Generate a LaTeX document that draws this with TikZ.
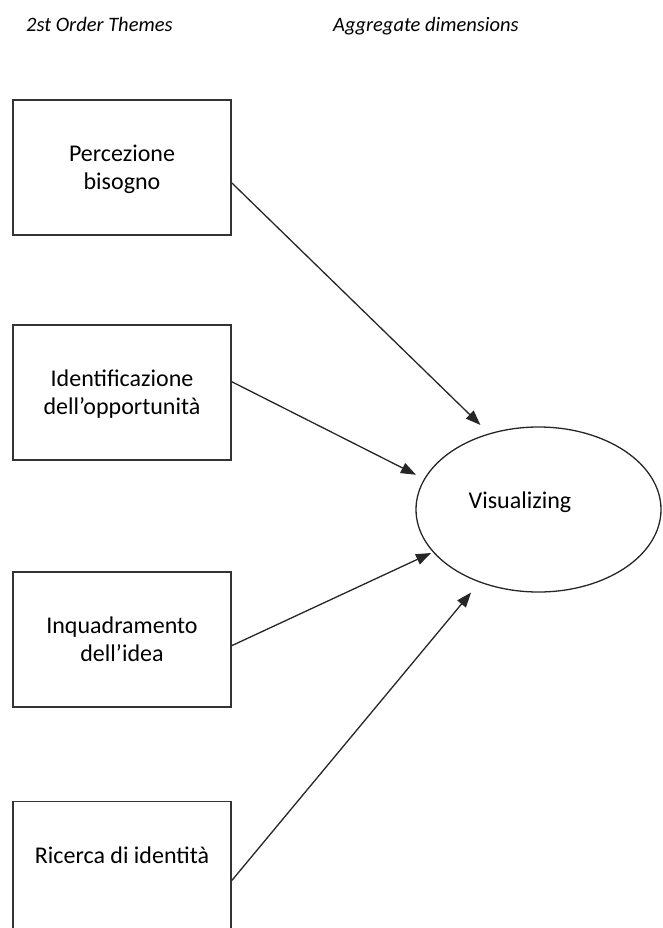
\documentclass[tikz,border=0pt]{standalone}
\usepackage{fontspec}
\setmainfont{Carlito}
\usepackage{tikz}
\usetikzlibrary{arrows.meta,calc,positioning,shapes.geometric}
\newcommand{\themetext}[1]{\parbox[c][135pt][t]{218pt}{\centering\rule{0pt}{62pt}#1}}
\tikzstyle{theme}=[
  draw=black!80,
  line width=1.8pt,
  inner sep=0pt,
  minimum width=218pt,
  minimum height=135pt,
  font={\fontsize{24}{28}\selectfont},
]
\tikzstyle{dimension}=[
  draw=black!85,
  ellipse,
  line width=1.3pt,
  inner sep=0pt,
  minimum width=245pt,
  minimum height=165pt,
  font={\fontsize{24}{28}\selectfont},
]
\tikzstyle{heading}=[
  anchor=base west,
  inner sep=0pt,
  font={\fontsize{20.5}{24}\selectfont\itshape},
]
\tikzstyle{arrow}=[
  draw=black!85,
  line width=1.3pt,
]
\tikzset{
  >={Triangle[length=15pt,width=11pt]},
}

\begin{document}
\begin{tikzpicture}[x=1pt,y=-1pt]
  \useasboundingbox (0,0) rectangle (662,928);
  %%
  \node (themes) [heading] at (26,32) {2st Order Themes};
  \node (aggregate) [heading] at (333,32) {Aggregate dimensions};
  %%
  \node (percezione) [theme] at (122,167.5) {\themetext{Percezione\\bisogno}};
  \node (identificazione) [theme, below=88pt of percezione] {\themetext{Identificazione\\dell'opportunità}};
  \node (inquadramento) [theme, below=110pt of identificazione] {\themetext{Inquadramento\\dell'idea}};
  \node (ricerca) [theme, below=93pt of inquadramento] {\themetext{Ricerca di identità}};
  %%
  \node (visualizing) [dimension, text height=17pt, text depth=20pt] at (538.5,509.5) {Visualizing\kern37pt};
  %%
  \draw [->, arrow, shorten >=12pt] ([yshift=-15.5pt]percezione.east) -- (visualizing.123.6);
  \draw [->, arrow, shorten >=9pt] ([yshift=10.5pt]identificazione.east) -- (visualizing.165);
  \draw [->, arrow, shorten >=2pt] ([yshift=-6.5pt]inquadramento.east) -- (visualizing.202);
  \draw [->, arrow, shorten >=13pt] ([yshift=-11.5pt]ricerca.east) -- (visualizing.231.9);
\end{tikzpicture}
\end{document}
